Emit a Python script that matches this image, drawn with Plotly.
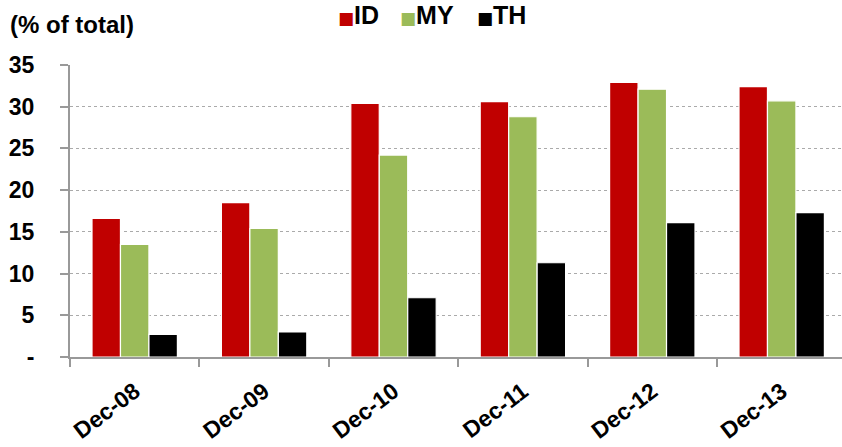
import plotly.graph_objects as go

categories = ["Dec-08", "Dec-09", "Dec-10", "Dec-11", "Dec-12", "Dec-13"]
id_share = [16.6, 18.5, 30.4, 30.6, 32.9, 32.4]
my_share = [13.5, 15.4, 24.2, 28.8, 32.1, 30.7]
th_share = [2.7, 3.0, 7.1, 11.3, 16.1, 17.3]

y_ticks = [0, 5, 10, 15, 20, 25, 30, 35]
y_tick_text = ["-", "5", "10", "15", "20", "25", "30", "35"]

series_names = ["ID", "MY", "TH"]
series_values = [id_share, my_share, th_share]
series_colors = ["#C00000", "#9BBB59", "#000000"]

W, H = 842, 447
ML, MR, MT, MB = 70, 0, 65, 90
PW, PH = W - ML - MR, H - MT - MB

fig = go.Figure()
for name, vals, color in zip(series_names, series_values, series_colors):
    fig.add_trace(go.Bar(
        x=categories, y=vals, name=name,
        marker=dict(color=color, line=dict(color="white", width=1.2)),
    ))

fig.update_layout(
    width=W, height=H,
    margin=dict(l=ML, r=MR, t=MT, b=MB),
    paper_bgcolor="white", plot_bgcolor="white",
    barmode="group", bargap=0.34, bargroupgap=0.0,
    showlegend=False,
    font=dict(family="Liberation Sans", color="black"),
)

# unit label in the top-left corner
fig.add_annotation(
    text="<b>(% of total)</b>", xref="paper", yref="paper",
    x=(8 - ML) / PW, y=1 + (MT - 24) / PH, xanchor="left", yanchor="middle",
    showarrow=False,
    font=dict(family="Liberation Sans", size=24, color="black"),
)

# compact legend: a coloured square followed by the series name
legend_px = [336, 398, 475]
for name, color, px in zip(series_names, series_colors, legend_px):
    fig.add_annotation(
        text=f"<span style='color:{color};font-family:DejaVu Sans;font-size:17px'>■</span><b>{name}</b>",
        xref="paper", yref="paper",
        x=(px - ML) / PW, y=1 + (MT - 15) / PH, xanchor="left", yanchor="middle",
        showarrow=False,
        font=dict(family="Liberation Sans", size=25, color="black"),
    )

fig.update_xaxes(
    type="category", range=[-0.5, 5.466],
    showline=True, linecolor="#999999", linewidth=2,
    ticks="outside", tickson="boundaries", ticklen=8, tickcolor="#999999", tickwidth=2,
    tickangle=-37, ticklabelstandoff=10,
    tickfont=dict(family="Liberation Sans", size=23, color="black", weight="bold"),
    showgrid=False,
)
fig.update_yaxes(
    range=[0, 35], tickvals=y_ticks, ticktext=y_tick_text,
    showline=True, linecolor="#999999", linewidth=2,
    ticks="outside", ticklen=8, tickcolor="#999999", tickwidth=2,
    ticklabelstandoff=21,
    tickfont=dict(family="Liberation Sans", size=23, color="black", weight="bold"),
    showgrid=True, gridcolor="#AAAAAA", griddash="dot", gridwidth=1,
    zeroline=False,
)

fig.write_html("out.html")
